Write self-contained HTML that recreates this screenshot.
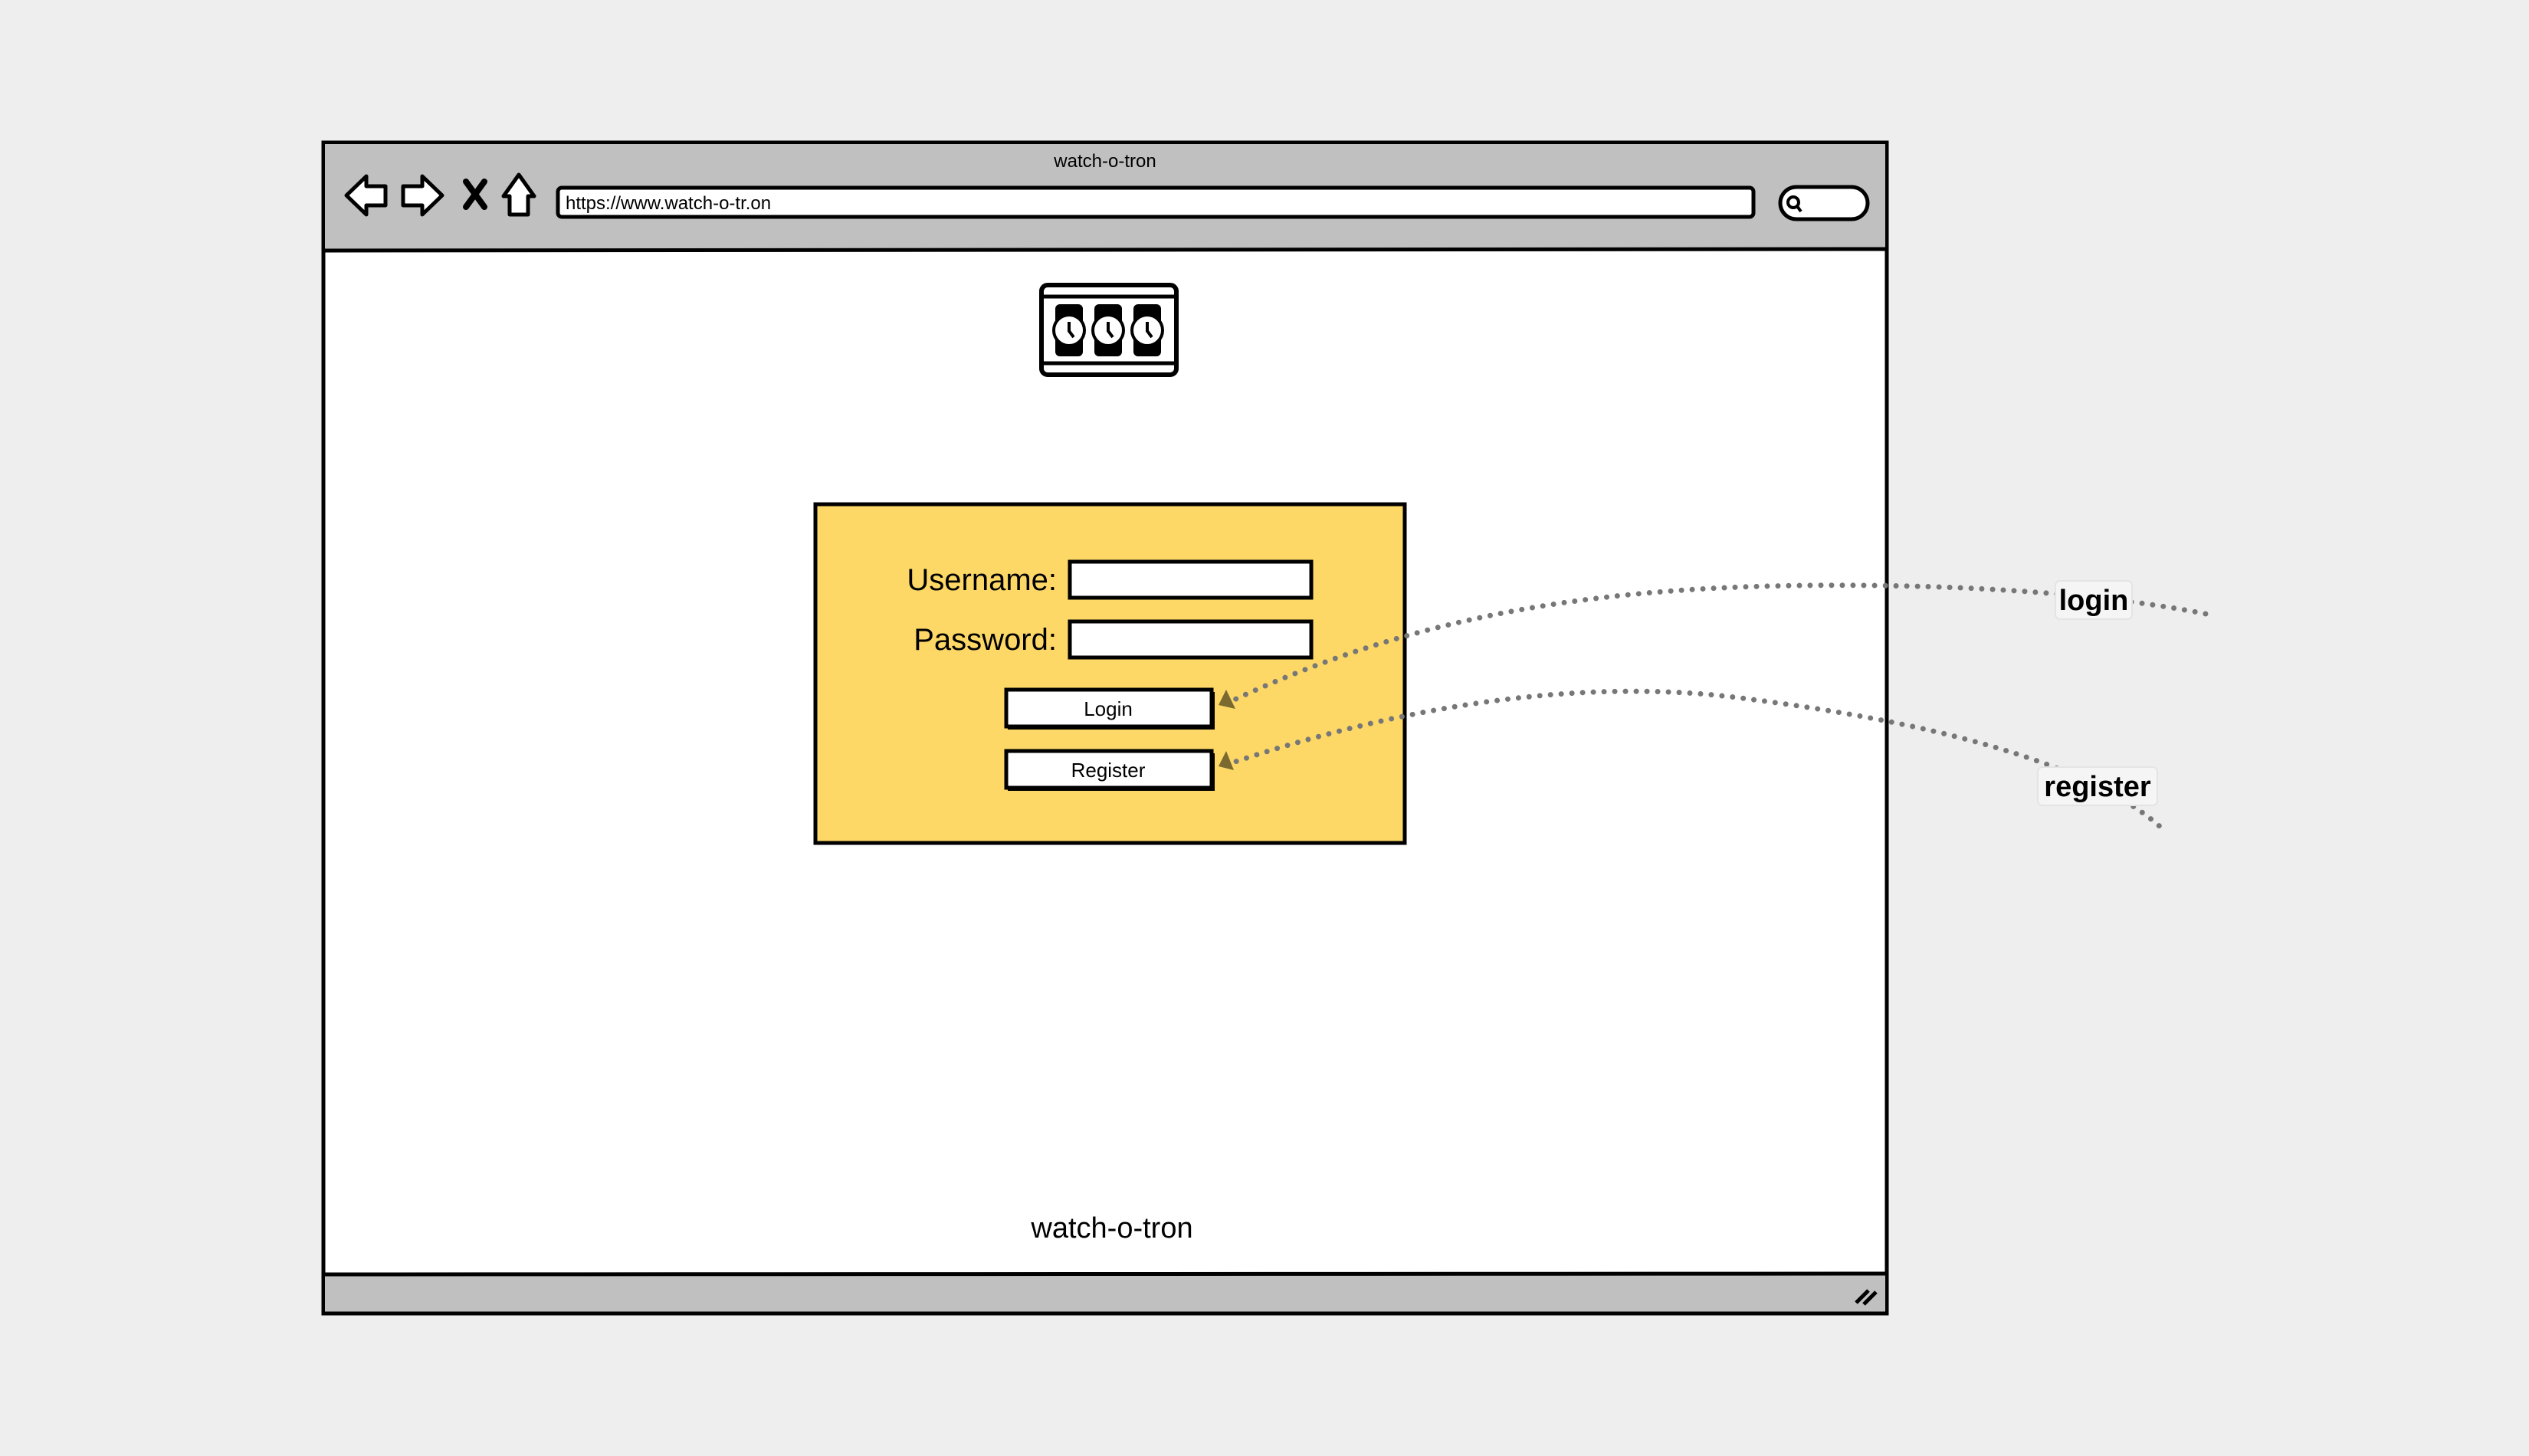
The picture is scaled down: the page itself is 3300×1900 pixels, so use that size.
<!DOCTYPE html>
<html><head><meta charset="utf-8"><style>
html,body{margin:0;padding:0;background:#eeeeee;}
svg{display:block;}
text{font-family:"Liberation Sans",sans-serif;}
</style></head><body>
<svg width="3300" height="1900" viewBox="0 0 3300 1900" xmlns="http://www.w3.org/2000/svg">
<rect width="3300" height="1900" fill="#eeeeee"/>
<rect x="422" y="186" width="2040" height="1528" fill="#ffffff" stroke="#000" stroke-width="5"/>
<rect x="424" y="188" width="2036" height="139" fill="#c0c0c0"/>
<line x1="422" y1="327" x2="2462" y2="325" stroke="#000" stroke-width="5"/>
<rect x="424" y="1664" width="2036" height="49" fill="#c0c0c0"/>
<line x1="422" y1="1663" x2="2462" y2="1662" stroke="#000" stroke-width="5"/>
<line x1="422" y1="1714" x2="2462" y2="1714" stroke="#000" stroke-width="5"/>
<path d="M2422 1700 L2438 1684 M2432 1702 L2448 1686" stroke="#000" stroke-width="5"/>
<text x="1442" y="218" font-size="24" text-anchor="middle">watch-o-tron</text>
<path d="M452 255 L478 230 L478 243 L503 243 L503 268 L478 268 L478 280 Z" fill="#fff" stroke="#000" stroke-width="5" stroke-linejoin="round"/>
<path d="M577 255 L551 230 L551 243 L526 243 L526 268 L551 268 L551 280 Z" fill="#fff" stroke="#000" stroke-width="5" stroke-linejoin="round"/>
<path d="M608 237 L632 270 M632 237 L608 270" stroke="#000" stroke-width="8" stroke-linecap="round"/>
<path d="M677 228 L697 256 L689 256 L689 280 L665 280 L665 256 L657 256 Z" fill="#fff" stroke="#000" stroke-width="5" stroke-linejoin="round"/>
<rect x="728" y="245" width="1560" height="38" rx="5" fill="#fff" stroke="#000" stroke-width="5"/>
<text x="738" y="273" font-size="24">https://www.watch-o-tr.on</text>
<rect x="2323" y="244" width="114" height="42" rx="21" fill="#fff" stroke="#000" stroke-width="5"/>
<circle cx="2340" cy="264" r="7" fill="none" stroke="#000" stroke-width="4"/>
<line x1="2345" y1="269" x2="2350" y2="276" stroke="#000" stroke-width="4"/>
<rect x="1359" y="372" width="176" height="117" rx="8" fill="#fff" stroke="#000" stroke-width="6"/>
<line x1="1359" y1="387" x2="1535" y2="387" stroke="#000" stroke-width="5"/>
<line x1="1359" y1="474" x2="1535" y2="474" stroke="#000" stroke-width="5"/>
<g fill="#000">
<rect x="1377" y="397" width="36" height="68" rx="6"/>
<rect x="1428" y="397" width="36" height="68" rx="6"/>
<rect x="1479" y="397" width="36" height="68" rx="6"/>
</g>
<g fill="#fff" stroke="#000" stroke-width="4">
<circle cx="1395" cy="431" r="20"/><circle cx="1446" cy="431" r="20"/><circle cx="1497" cy="431" r="20"/>
</g>
<path d="M1395 420 L1395 432 L1401 440 M1446 420 L1446 432 L1452 440 M1497 420 L1497 432 L1503 440" stroke="#000" stroke-width="4" fill="none"/>
<rect x="1064" y="658" width="769" height="442" fill="#fdd866" stroke="#000" stroke-width="5"/>
<text x="1379" y="770" font-size="40" text-anchor="end">Username:</text>
<text x="1379" y="848" font-size="40" text-anchor="end">Password:</text>
<rect x="1396" y="733" width="315" height="47" fill="#fff" stroke="#000" stroke-width="5"/>
<rect x="1396" y="811" width="315" height="47" fill="#fff" stroke="#000" stroke-width="5"/>
<rect x="1313" y="900" width="268" height="48" fill="#fff" stroke="#000" stroke-width="5"/>
<rect x="1315" y="946" width="270" height="6" fill="#000"/>
<rect x="1581" y="903" width="4" height="49" fill="#000"/>
<text x="1446" y="934" font-size="26" text-anchor="middle">Login</text>
<rect x="1313" y="980" width="268" height="48" fill="#fff" stroke="#000" stroke-width="5"/>
<rect x="1315" y="1026" width="270" height="6" fill="#000"/>
<rect x="1581" y="983" width="4" height="49" fill="#000"/>
<text x="1446" y="1014" font-size="26" text-anchor="middle">Register</text>
<text x="1451" y="1615" font-size="38" text-anchor="middle">watch-o-tron</text>
<g fill="none" stroke="#777" stroke-width="7" stroke-linecap="round" stroke-dasharray="0 14">
<path d="M1600 918 C1850 800 2100 760 2441 764 C2650 766 2800 785 2883 802"/>
<path d="M1600 998 C1800 930 2050 880 2280 912 C2500 940 2720 990 2820 1080"/>
</g>
<path d="M1590 920 L1600 900 L1612 925 Z" fill="#7a6a30"/>
<path d="M1590 1000 L1600 980 L1610 1005 Z" fill="#7a6a30"/>
<rect x="2682" y="758" width="100" height="50" rx="6" fill="#f5f5f5" stroke="#e4e4e4" stroke-width="2"/>
<text x="2732" y="796" font-size="38" font-weight="bold" text-anchor="middle">login</text>
<rect x="2659" y="1001" width="156" height="50" rx="6" fill="#f5f5f5" stroke="#e4e4e4" stroke-width="2"/>
<text x="2737" y="1039" font-size="38" font-weight="bold" text-anchor="middle">register</text>
</svg>
</body></html>
